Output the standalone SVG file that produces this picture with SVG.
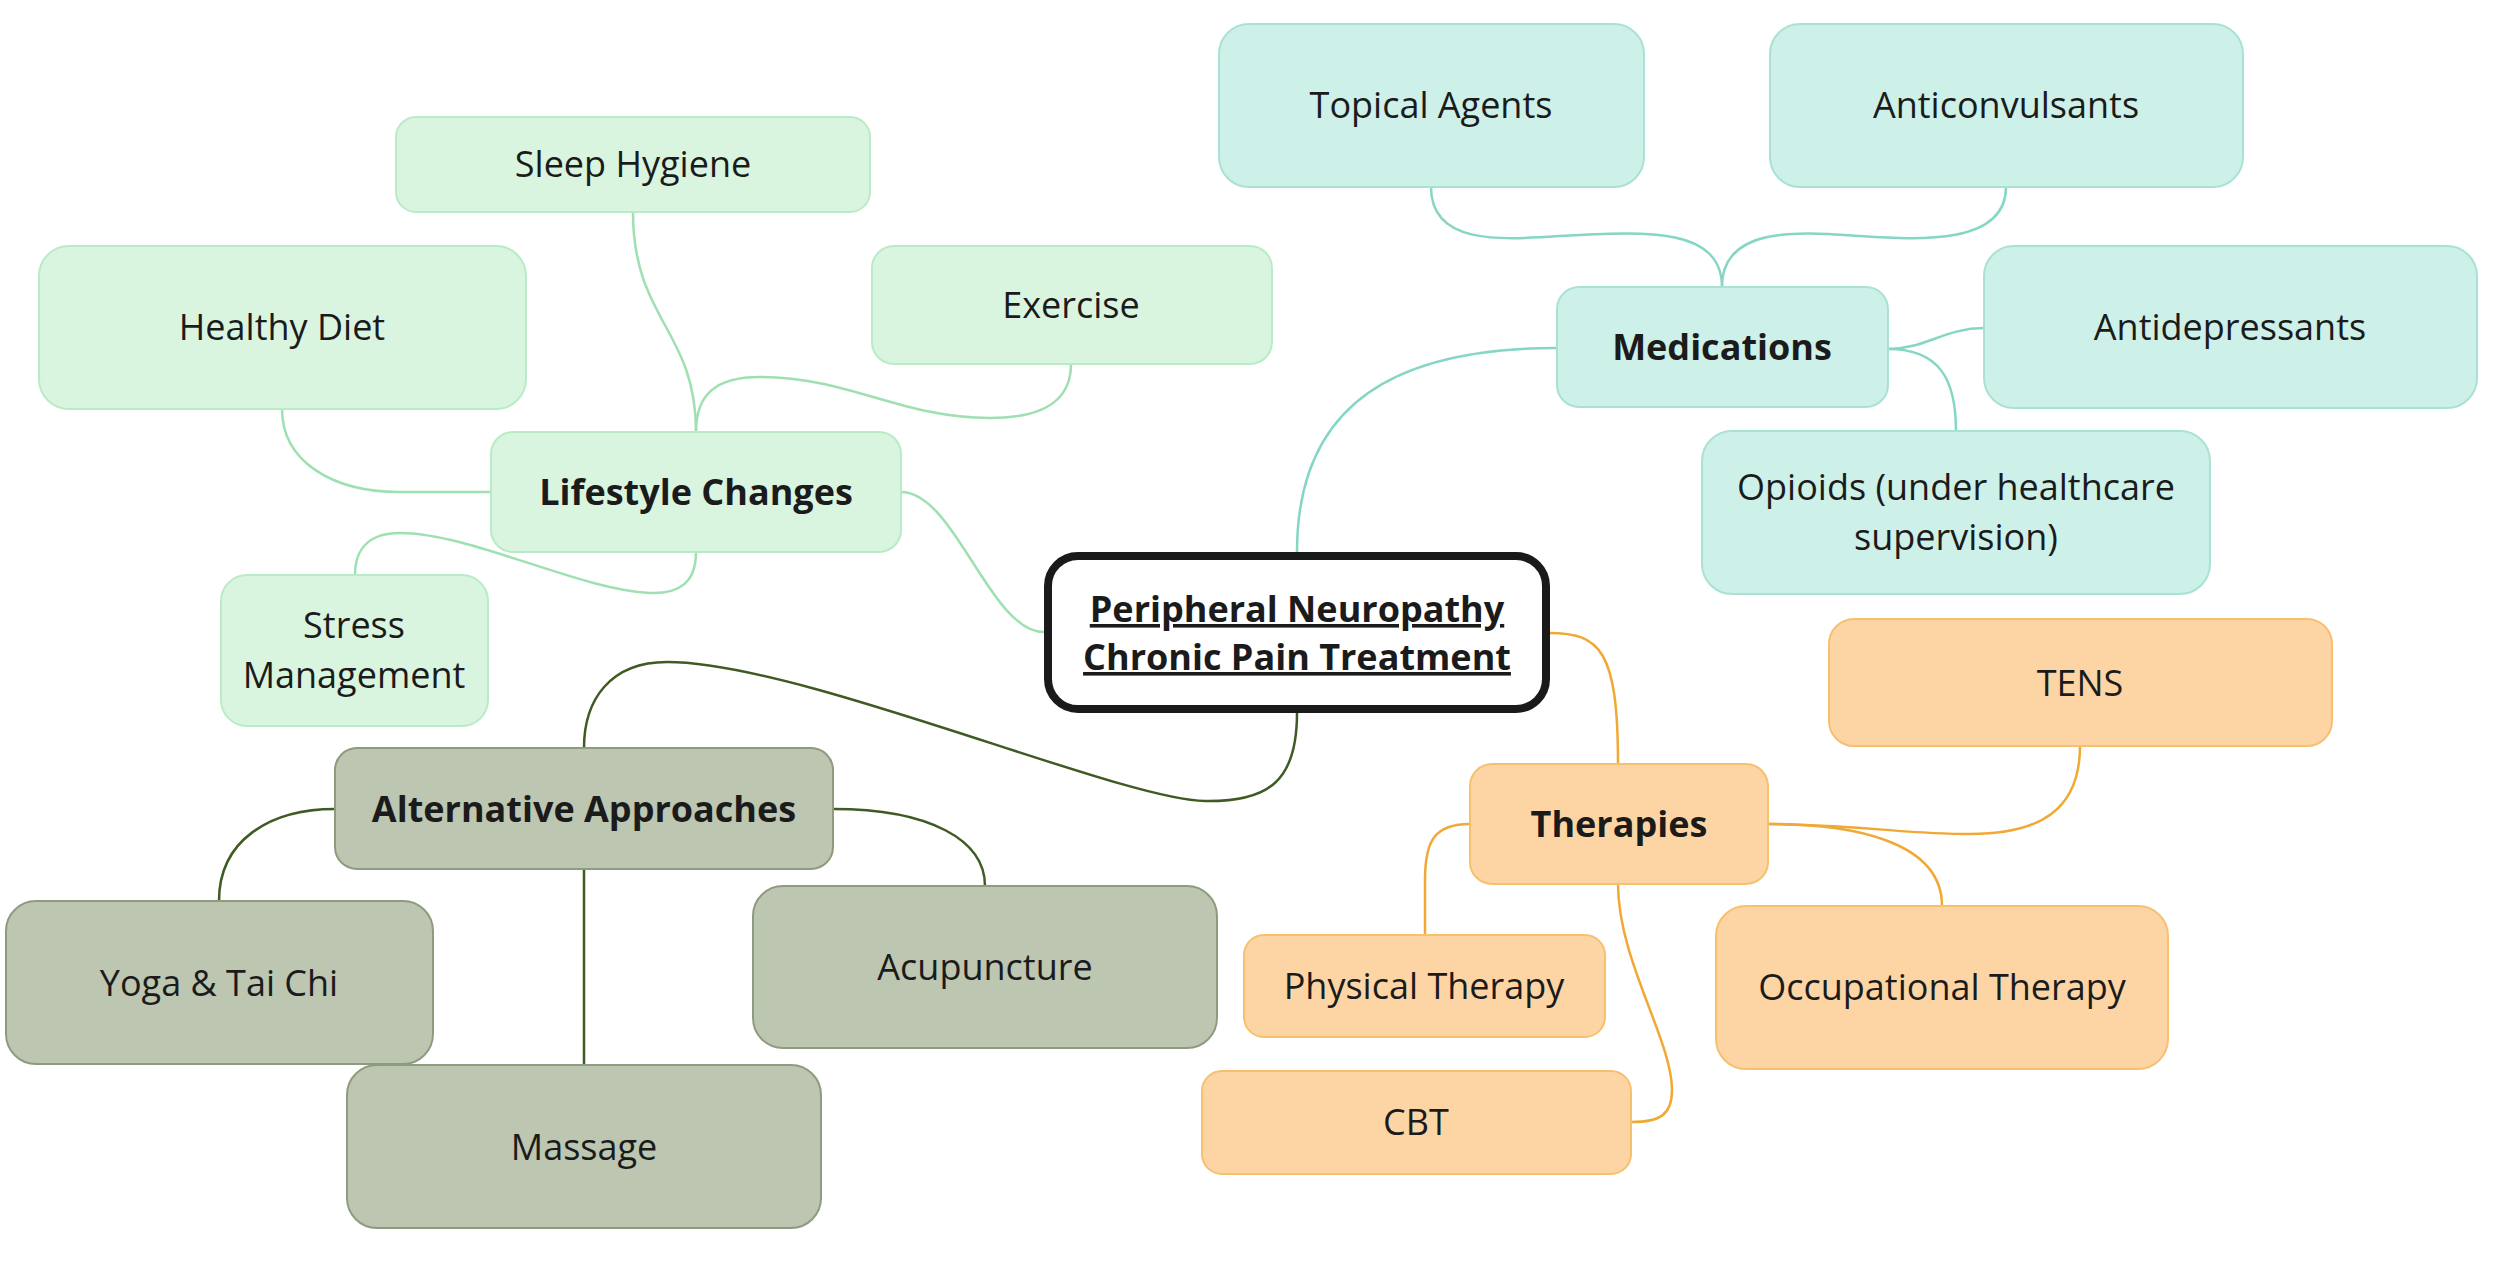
<svg xmlns="http://www.w3.org/2000/svg" width="2500" height="1269" viewBox="0 0 2500 1269">
<style>
text{font-family:"Open Sans","Noto Sans","Liberation Sans",sans-serif;font-size:36px;fill:#1b1b1b;text-anchor:middle}
.b{font-weight:700}
.life rect{fill:#d9f5e0;stroke:#b9ebc7;stroke-width:2}
.med rect{fill:#cdf0e8;stroke:#a9e2d5;stroke-width:2}
.ther rect{fill:#fdd5a5;stroke:#f6c06f;stroke-width:2}
.alt rect{fill:#bcc6b1;stroke:#8e9b7f;stroke-width:2}
#connectors path{fill:none;stroke-width:2.5}
.cl{stroke:#9fe0b2}
.cm{stroke:#85d6c4}
.ct{stroke:#f0a935}
.ca{stroke:#3f5a22}
</style>
<rect width="2500" height="1269" fill="#ffffff"/>
<g id="connectors">
<path class="cl" d="M1044,632 C990,632 955,492 901,492"/>
<path class="cl" d="M696,432 C696,330 633,320 633,212"/>
<path class="cl" d="M696,432 C696,395 715,377 760,377 C850,377 900,418 990,418 C1045,418 1071,400 1071,364"/>
<path class="cl" d="M491,492 L400,492 C330,492 282,460 282,409"/>
<path class="cl" d="M696,552 C696,582 680,594 650,593 C580,590 470,533 400,533 C370,533 355,548 355,575"/>
<path class="cm" d="M1297,552 C1297,400 1400,348 1557,348"/>
<path class="cm" d="M1722,287 C1722,225 1640,232 1560,236 C1500,240 1431,245 1431,187"/>
<path class="cm" d="M1722,287 C1722,225 1800,232 1860,236 C1920,240 2006,245 2006,187"/>
<path class="cm" d="M1888,349 C1925,349 1945,328 1984,328"/>
<path class="cm" d="M1888,349 C1940,349 1956,380 1956,431"/>
<path class="ct" d="M1549,633 C1600,633 1618,650 1618,764"/>
<path class="ct" d="M1768,824 C1880,826 1900,834 1970,834 C2040,834 2080,810 2080,746"/>
<path class="ct" d="M1768,824 C1850,824 1942,840 1942,906"/>
<path class="ct" d="M1470,824 C1435,824 1425,840 1425,880 L1425,935"/>
<path class="ct" d="M1618,884 C1618,960 1672,1040 1672,1090 C1672,1115 1660,1122 1631,1122"/>
<path class="ca" d="M1297,713 C1297,780 1270,802 1205,801 C1120,800 800,662 667,662 C610,662 584,700 584,748"/>
<path class="ca" d="M335,809 C270,809 219,840 219,901"/>
<path class="ca" d="M833,809 C930,809 985,840 985,886"/>
<path class="ca" d="M584,869 L584,1065"/>
</g>
<g id="central">
<rect x="1048" y="556" width="498" height="153" rx="30" fill="#ffffff" stroke="#1a1a1a" stroke-width="8"/>
<text class="b" x="1297" y="622" text-decoration="underline">Peripheral Neuropathy</text>
<text class="b" x="1297" y="670" text-decoration="underline">Chronic Pain Treatment</text>
</g>
<g id="lifestyle" class="life"><rect x="491" y="432" width="410" height="120" rx="22"/><text class="b" x="696" y="505">Lifestyle Changes</text></g>
<g id="sleep" class="life"><rect x="396" y="117" width="474" height="95" rx="20"/><text x="633" y="177">Sleep Hygiene</text></g>
<g id="diet" class="life"><rect x="39" y="246" width="487" height="163" rx="30"/><text x="282" y="340">Healthy Diet</text></g>
<g id="exercise" class="life"><rect x="872" y="246" width="400" height="118" rx="22"/><text x="1071" y="318">Exercise</text></g>
<g id="stress" class="life"><rect x="221" y="575" width="267" height="151" rx="26"/><text x="354" y="638">Stress</text><text x="354" y="688">Management</text></g>
<g id="medications" class="med"><rect x="1557" y="287" width="331" height="120" rx="22"/><text class="b" x="1722" y="360">Medications</text></g>
<g id="topical" class="med"><rect x="1219" y="24" width="425" height="163" rx="30"/><text x="1431" y="118">Topical Agents</text></g>
<g id="anticonvulsants" class="med"><rect x="1770" y="24" width="473" height="163" rx="30"/><text x="2006" y="118">Anticonvulsants</text></g>
<g id="antidepressants" class="med"><rect x="1984" y="246" width="493" height="162" rx="30"/><text x="2230" y="340">Antidepressants</text></g>
<g id="opioids" class="med"><rect x="1702" y="431" width="508" height="163" rx="30"/><text x="1956" y="500">Opioids (under healthcare</text><text x="1956" y="550">supervision)</text></g>
<g id="therapies" class="ther"><rect x="1470" y="764" width="298" height="120" rx="22"/><text class="b" x="1619" y="837">Therapies</text></g>
<g id="tens" class="ther"><rect x="1829" y="619" width="503" height="127" rx="25"/><text x="2080" y="696">TENS</text></g>
<g id="physical" class="ther"><rect x="1244" y="935" width="361" height="102" rx="20"/><text x="1424" y="999">Physical Therapy</text></g>
<g id="occupational" class="ther"><rect x="1716" y="906" width="452" height="163" rx="30"/><text x="1942" y="1000">Occupational Therapy</text></g>
<g id="cbt" class="ther"><rect x="1202" y="1071" width="429" height="103" rx="20"/><text x="1416" y="1135">CBT</text></g>
<g id="alternative" class="alt"><rect x="335" y="748" width="498" height="121" rx="22"/><text class="b" x="584" y="822">Alternative Approaches</text></g>
<g id="yoga" class="alt"><rect x="6" y="901" width="427" height="163" rx="30"/><text x="219" y="996">Yoga &amp; Tai Chi</text></g>
<g id="acupuncture" class="alt"><rect x="753" y="886" width="464" height="162" rx="30"/><text x="985" y="980">Acupuncture</text></g>
<g id="massage" class="alt"><rect x="347" y="1065" width="474" height="163" rx="30"/><text x="584" y="1160">Massage</text></g>
</svg>
